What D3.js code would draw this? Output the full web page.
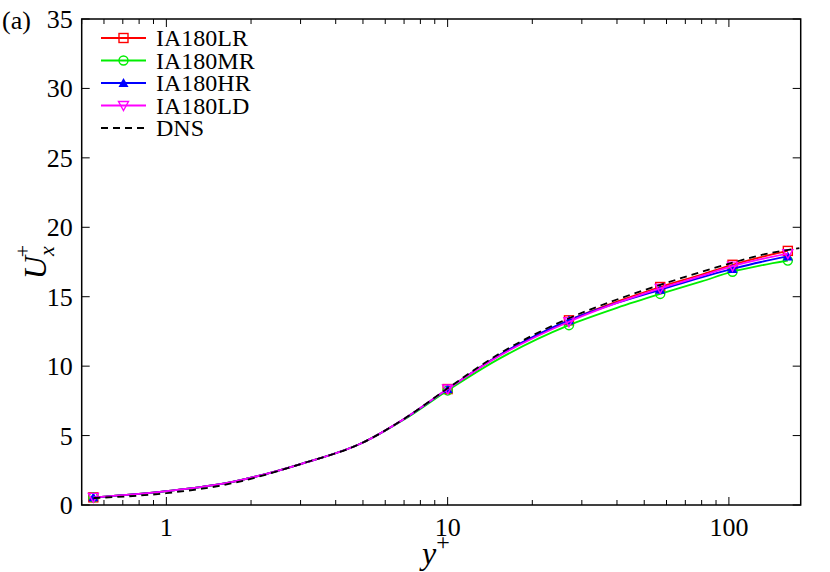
<!DOCTYPE html><html><head><meta charset="utf-8">
<script src="https://cdn.jsdelivr.net/npm/d3@7"></script>
<style>body{margin:0;background:#fff}</style></head><body>
<svg id="c" width="830" height="572" font-family="'Liberation Serif','Times New Roman',serif"></svg>
<script>
const yPlus = [0.55,1,1.7,3,5,7,10,15,27,40,57,80,103,130,162];
const markerIdx = [0,6,8,10,12,14];
const dnsX = [0.55,1,1.7,3,5,7,10,15,27,40,57,80,103,130,178];
const dnsY = [0.5,0.85,1.55,2.95,4.5,6.2,8.4,10.8,13.45,14.8,15.85,16.8,17.45,18.0,18.5];
const LR = [0.55,1.0,1.65,2.95,4.5,6.2,8.35,10.7,13.3,14.65,15.7,16.6,17.3,17.85,18.3];
const MR = [0.55,1.0,1.65,2.95,4.5,6.15,8.25,10.45,12.95,14.2,15.2,16.1,16.8,17.25,17.6];
const HR = [0.55,1.0,1.65,2.95,4.5,6.2,8.35,10.7,13.3,14.55,15.5,16.4,17.0,17.5,17.9];
const LD = [0.55,1.0,1.65,2.95,4.5,6.2,8.35,10.65,13.2,14.55,15.6,16.5,17.2,17.7,18.1];
const names = ["IA180LR","IA180MR","IA180HR","IA180LD"];
const colors = ["#ff0000","#00ee00","#0000ff","#ff00ff"];
const symbols = ["square","circle","up","down"];
const yTicks = [0,5,10,15,20,25,30,35];
const xTicks = [1,10,100];

const svg = d3.select("#c");
const L=81.7,R=800.7,T=19,B=505;
const x = d3.scaleLog().domain([0.5,180]).range([L,R]);
const y = d3.scaleLinear().domain([0,35]).range([B,T]);
const g = svg.append("g");
const minors=[];[0.1,1,10,100].forEach(d=>{for(let k=1;k<10;k++){const v=d*k;if(v>=0.5&&v<=180)minors.push(v);}});
minors.forEach(v=>{const big=xTicks.includes(v);const len=big?8:5;
 g.append("line").attr("x1",x(v)).attr("x2",x(v)).attr("y1",B).attr("y2",B-len).attr("stroke","#000");
 g.append("line").attr("x1",x(v)).attr("x2",x(v)).attr("y1",T).attr("y2",T+len).attr("stroke","#000");});
xTicks.forEach(v=>g.append("text").attr("x",x(v)).attr("y",B+31).attr("text-anchor","middle").attr("font-size",26).text(v));
yTicks.forEach(v=>{
 g.append("line").attr("x1",L).attr("x2",L+8).attr("y1",y(v)).attr("y2",y(v)).attr("stroke","#000");
 g.append("line").attr("x1",R).attr("x2",R-8).attr("y1",y(v)).attr("y2",y(v)).attr("stroke","#000");
 g.append("text").attr("x",L-9).attr("y",y(v)+9).attr("text-anchor","end").attr("font-size",26).text(v);});
g.append("rect").attr("x",L).attr("y",T).attr("width",R-L).attr("height",B-T).attr("fill","none").attr("stroke","#000").attr("stroke-width",1.5);

const line=d3.line().x(d=>x(d[0])).y(d=>y(d[1])).curve(d3.curveMonotoneX);
function marker(sel,sym,cx,cy,col){
 if(sym==="square") sel.append("rect").attr("x",cx-4.5).attr("y",cy-4.5).attr("width",9).attr("height",9).attr("fill","none").attr("stroke",col).attr("stroke-width",1.4);
 else if(sym==="circle") sel.append("circle").attr("cx",cx).attr("cy",cy).attr("r",4.5).attr("fill","none").attr("stroke",col).attr("stroke-width",1.4);
 else if(sym==="up") sel.append("path").attr("d",`M${cx},${cy-5}L${cx+5},${cy+4}L${cx-5},${cy+4}Z`).attr("fill",col);
 else sel.append("path").attr("d",`M${cx},${cy+5}L${cx+5},${cy-4}L${cx-5},${cy-4}Z`).attr("fill","none").attr("stroke",col).attr("stroke-width",1.4);
}
[LR,MR,HR,LD].forEach((s,i)=>{
 const pts=yPlus.map((v,j)=>[v,s[j]]);
 g.append("path").attr("d",line(pts)).attr("fill","none").attr("stroke",colors[i]).attr("stroke-width",1.8);
 markerIdx.forEach(j=>marker(g,symbols[i],x(yPlus[j]),y(s[j]),colors[i]));
});
g.append("path").attr("d",line(dnsX.map((v,j)=>[v,dnsY[j]]))).attr("fill","none").attr("stroke","#000").attr("stroke-width",1.8).attr("stroke-dasharray","7,5");
names.concat(["DNS"]).forEach((n,i)=>{
 const ly=38+i*22.5;
 if(i<4){g.append("line").attr("x1",101).attr("x2",146).attr("y1",ly).attr("y2",ly).attr("stroke",colors[i]).attr("stroke-width",1.8);
  marker(g,symbols[i],123.5,ly,colors[i]);}
 else g.append("line").attr("x1",101).attr("x2",146).attr("y1",ly).attr("y2",ly).attr("stroke","#000").attr("stroke-width",1.8).attr("stroke-dasharray","7,5");
 g.append("text").attr("x",156).attr("y",ly+8).attr("font-size",24).text(n);
});
svg.append("text").attr("x",2).attr("y",29).attr("font-size",26).text("(a)");
const yl=svg.append("text").attr("transform","translate(46,262) rotate(-90)").attr("text-anchor","middle").attr("font-size",32).attr("font-style","italic");
yl.append("tspan").text("U");yl.append("tspan").attr("font-size",22).attr("dy",8).text("x");
yl.append("tspan").attr("font-size",22).attr("dx",-11).attr("dy",-24).attr("font-style","normal").text("+");
const xl=svg.append("text").attr("x",422).attr("y",564).attr("font-size",32).attr("font-style","italic");
xl.append("tspan").text("y");xl.append("tspan").attr("font-size",24).attr("dy",-14).attr("font-style","normal").text("+");
</script></body></html>
